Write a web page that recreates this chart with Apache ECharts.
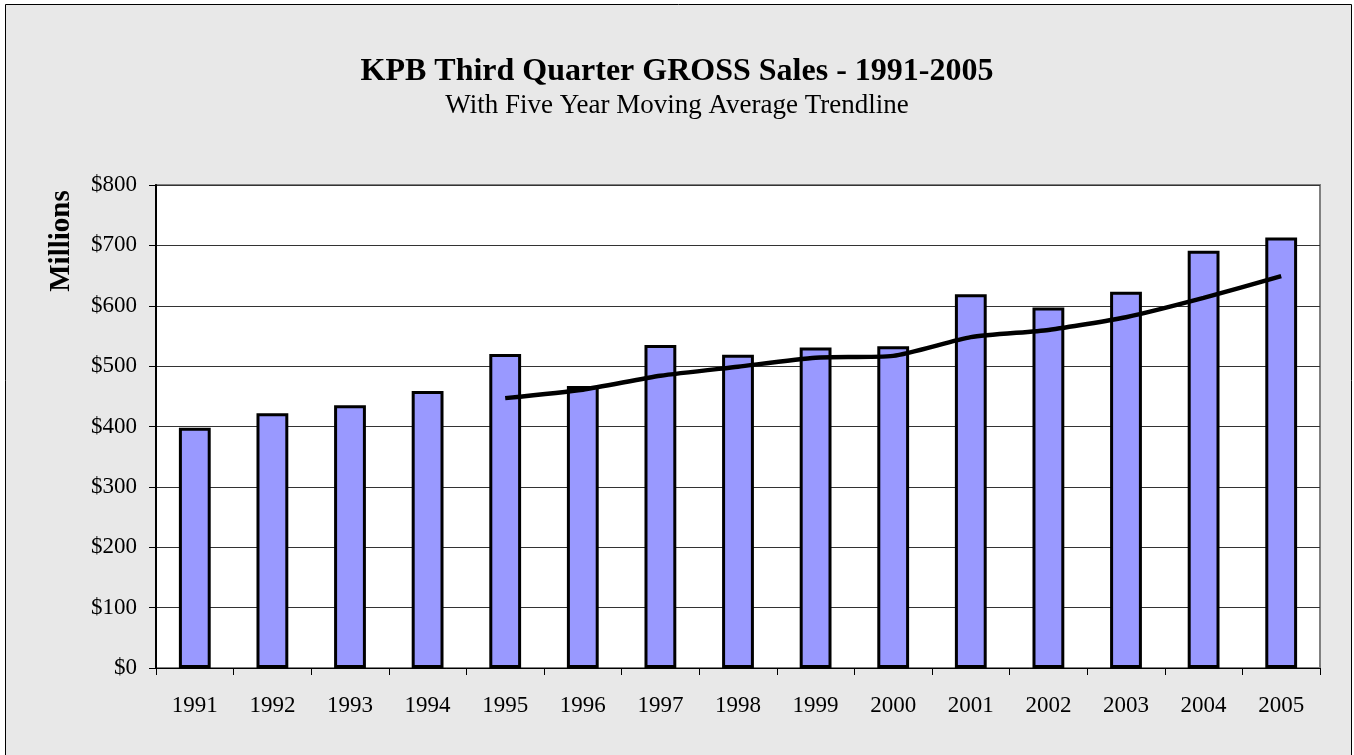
<!DOCTYPE html>
<html>
<head>
<meta charset="utf-8">
<script src="https://cdn.jsdelivr.net/npm/echarts@6/dist/echarts.min.js"></script>
<style>
  html, body { margin: 0; padding: 0; background: #fff; }
  #chart { width: 1354px; height: 755px; }
</style>
</head>
<body>
<div id="chart"></div>
<script>
// data
const years = ['1991', '1992', '1993', '1994', '1995', '1996', '1997', '1998',
               '1999', '2000', '2001', '2002', '2003', '2004', '2005'];
const grossSales = [398, 422, 435, 459, 520, 467, 535, 519, 531, 533, 619, 597, 623, 691, 713];
// five year moving average (no value for the first four years)
const movingAvg = [null, null, null, null, 447, 461, 484, 499, 514, 517, 548, 560, 581, 613, 649];

const serif = '"Liberation Serif", "DejaVu Serif", serif';

const myChart = echarts.init(document.getElementById('chart'));

const option = {
    backgroundColor: '#fff',
    animation: false,
    graphic: [
        {
            type: 'rect',
            z: -10,
            shape: { x: 5.5, y: 4.5, width: 1346, height: 770 },
            style: { fill: '#e8e8e8', stroke: '#000', lineWidth: 1 }
        },
        {
            // axis title sits high on the left, as in the original
            type: 'text',
            x: 62,
            y: 241,
            rotation: Math.PI / 2,
            style: {
                text: 'Millions',
                font: 'bold 29px ' + serif,
                fill: '#000',
                align: 'center',
                verticalAlign: 'middle'
            }
        }
    ],
    title: {
        text: 'KPB Third Quarter GROSS Sales - 1991-2005',
        subtext: 'With Five Year Moving Average Trendline',
        left: 'center',
        top: 51,
        itemGap: 4,
        textStyle: { fontFamily: serif, fontSize: 32, fontWeight: 'bold', color: '#000' },
        subtextStyle: { fontFamily: serif, fontSize: 27, color: '#000' }
    },
    grid: {
        left: 156,
        top: 185,
        right: 34,
        bottom: 87,
        show: true,
        backgroundColor: '#fff',
        borderColor: '#808080',
        borderWidth: 2
    },
    xAxis: {
        type: 'category',
        data: years,
        boundaryGap: true,
        axisLine: { lineStyle: { color: '#000', width: 1 } },
        axisTick: { show: true, length: 7, lineStyle: { color: '#000' } },
        axisLabel: { color: '#000', fontFamily: serif, fontSize: 23, margin: 26 }
    },
    yAxis: {
        type: 'value',
        min: 0,
        max: 800,
        interval: 100,
        axisLine: { show: true, lineStyle: { color: '#000', width: 2 } },
        axisTick: { show: true, length: 7, lineStyle: { color: '#000' } },
        splitLine: { lineStyle: { color: '#333', width: 1 } },
        axisLabel: {
            color: '#000', fontFamily: serif, fontSize: 23, margin: 19,
            formatter: v => '$' + v
        }
    },
    series: [
        {
            name: 'Gross Sales',
            type: 'bar',
            data: grossSales,
            barWidth: '41%',
            itemStyle: { color: '#9999ff', borderColor: '#000', borderWidth: 3 }
        },
        {
            name: '5 Yr Moving Avg',
            type: 'line',
            data: movingAvg,
            smooth: 0.2,
            symbol: 'none',
            connectNulls: false,
            lineStyle: { color: '#000', width: 4.5 }
        }
    ]
};

myChart.setOption(option);
</script>
</body>
</html>
